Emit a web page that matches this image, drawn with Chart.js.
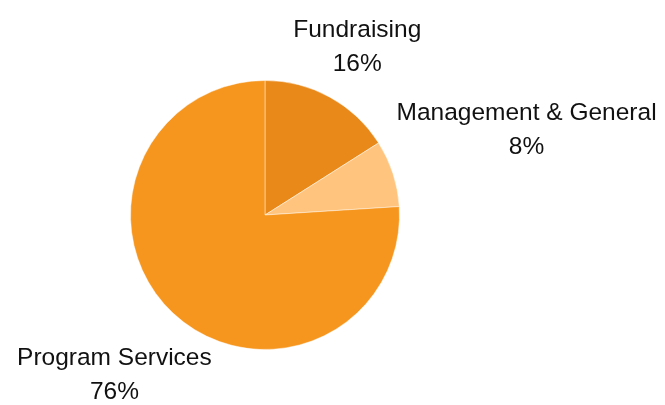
<!DOCTYPE html>
<html>
<head>
<meta charset="utf-8">
<script src="https://cdn.jsdelivr.net/npm/chart.js@4"></script>
<style>
html,body{margin:0;padding:0;background:#fff;}
#wrap{width:665px;height:405px;}
</style>
</head>
<body>
<div id="wrap"><canvas id="c" width="665" height="405"></canvas></div>
<script>
const categories = ["Fundraising", "Management & General", "Program Services"];
const values = [16, 8, 76];
const percentLabels = ["16%", "8%", "76%"];
const colors = ["#E8891A", "#FFC47D", "#F7961E"];

const outsideLabels = {
  id: 'outsideLabels',
  afterDraw(chart) {
    const ctx = chart.ctx;
    const meta = chart.getDatasetMeta(0);
    ctx.save();
    ctx.font = '24.5px "Liberation Sans", Arial, sans-serif';
    ctx.fillStyle = '#111';
    ctx.textAlign = 'center';
    ctx.textBaseline = 'middle';
    const lineGap = 34, halfH = 27, gap = 9;
    meta.data.forEach((arc, i) => {
      const p = arc.getProps(['x','y','startAngle','endAngle','outerRadius'], true);
      const a = (p.startAngle + p.endAngle) / 2;
      const ux = Math.cos(a), uy = Math.sin(a);
      const w = Math.max(ctx.measureText(categories[i]).width, ctx.measureText(percentLabels[i]).width);
      const hw = w / 2;
      let d = p.outerRadius;
      for (; d < p.outerRadius + 400; d += 0.5) {
        const cx = ux * d, cy = uy * d;
        const nx = Math.max(cx - hw, Math.min(0, cx + hw));
        const ny = Math.max(cy - halfH, Math.min(0, cy + halfH));
        if (Math.hypot(nx, ny) >= p.outerRadius + gap) break;
      }
      const lx = p.x + ux * d, ly = p.y + uy * d;
      ctx.fillText(categories[i], lx, ly - lineGap / 2);
      ctx.fillText(percentLabels[i], lx, ly + lineGap / 2);
    });
    ctx.restore();
  }
};

new Chart(document.getElementById('c'), {
  type: 'pie',
  data: {
    labels: categories,
    datasets: [{
      data: values,
      backgroundColor: colors,
      borderColor: 'rgba(255,255,255,0.45)',
      borderWidth: 1
    }]
  },
  options: {
    responsive: false,
    animation: false,
    layout: { padding: { top: 80, bottom: 55, left: 130, right: 265 } },
    plugins: { legend: { display: false }, tooltip: { enabled: false } }
  },
  plugins: [outsideLabels]
});
</script>
</body>
</html>
